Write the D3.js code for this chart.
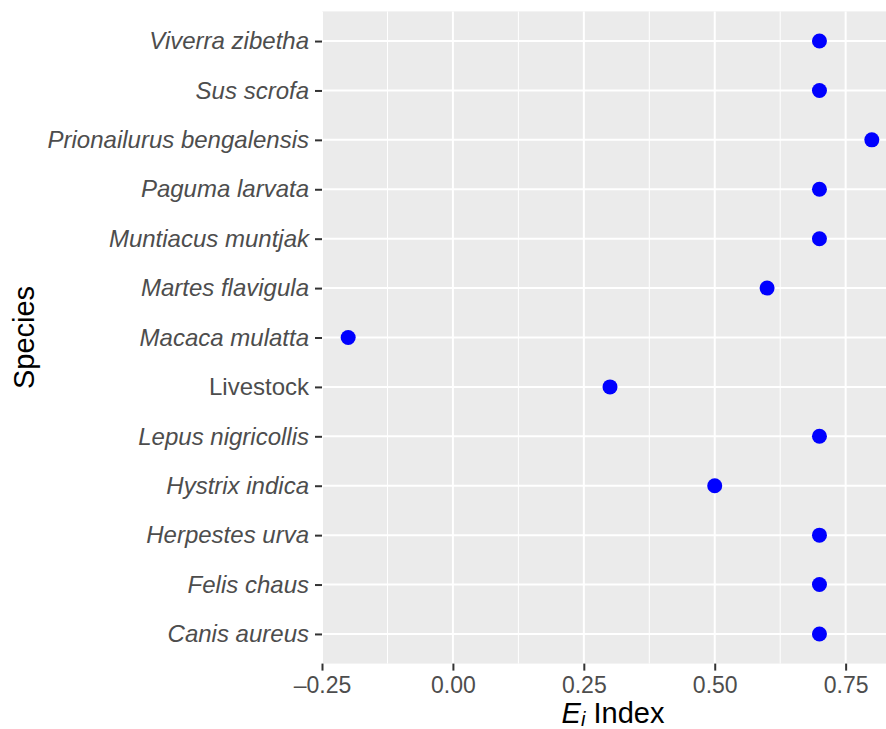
<!DOCTYPE html>
<html>
<head>
<meta charset="utf-8">
<script src="https://cdn.jsdelivr.net/npm/d3@7"></script>
<style>
  body { margin: 0; background: #fff; }
  svg { display: block; }
</style>
</head>
<body>
<script>
// species, listed bottom to top as in the plot
const species = [
    "Canis aureus", "Felis chaus", "Herpestes urva", "Hystrix indica",
    "Lepus nigricollis", "Livestock", "Macaca mulatta", "Martes flavigula",
    "Muntiacus muntjak", "Paguma larvata", "Prionailurus bengalensis",
    "Sus scrofa", "Viverra zibetha"
];
const eiValues = [0.7, 0.7, 0.7, 0.5, 0.7, 0.3, -0.2, 0.6, 0.7, 0.7, 0.8, 0.7, 0.7];
const xTicks = [-0.25, 0, 0.25, 0.5, 0.75];
const xMinor = [-0.125, 0.125, 0.375, 0.625, 0.875];
const notItalic = ["Livestock"];

const W = 886, H = 729;
const panel = {left: 322, top: 11.4, right: 898, bottom: 663.6};
const FONT = "'Liberation Sans', Arial, sans-serif";

const svg = d3.select("body").append("svg")
    .attr("width", W)
    .attr("height", H);

let xScale = d3.scaleLinear()
    .domain([-0.25, 0.85])
    .range([panel.left, panel.right]);

let yScale = d3.scalePoint()
    .domain(species.slice().reverse())
    .range([panel.top, panel.bottom])
    .padding(0.6);

// panel background
svg.append("rect")
    .attr("x", panel.left)
    .attr("y", panel.top)
    .attr("width", panel.right - panel.left)
    .attr("height", panel.bottom - panel.top)
    .attr("fill", "#EBEBEB");

// minor grid
svg.selectAll("line.minor")
    .data(xMinor)
    .enter().append("line")
    .attr("x1", d => xScale(d)).attr("x2", d => xScale(d))
    .attr("y1", panel.top).attr("y2", panel.bottom)
    .attr("stroke", "#fff").attr("stroke-width", 1);

// major grid
svg.selectAll("line.vmajor")
    .data(xTicks)
    .enter().append("line")
    .attr("x1", d => xScale(d)).attr("x2", d => xScale(d))
    .attr("y1", panel.top).attr("y2", panel.bottom)
    .attr("stroke", "#fff").attr("stroke-width", 2);

svg.selectAll("line.hmajor")
    .data(species)
    .enter().append("line")
    .attr("x1", panel.left).attr("x2", panel.right)
    .attr("y1", d => yScale(d)).attr("y2", d => yScale(d))
    .attr("stroke", "#fff").attr("stroke-width", 2);

// points
svg.selectAll("circle")
    .data(species.map((s, i) => ({s: s, v: eiValues[i]})))
    .enter().append("circle")
    .attr("cx", d => xScale(d.v))
    .attr("cy", d => yScale(d.s))
    .attr("r", 7.5)
    .attr("fill", "#0000FF");

// x axis
const xAxis = svg.append("g")
    .attr("transform", "translate(0," + panel.bottom + ")")
    .call(d3.axisBottom(xScale)
        .tickValues(xTicks)
        .tickSize(7)
        .tickPadding(6)
        .tickFormat(d3.format(".2f")));
xAxis.select(".domain").remove();
xAxis.selectAll(".tick line").attr("stroke", "#333").attr("stroke-width", 2);
xAxis.selectAll(".tick text")
    .attr("fill", "#4D4D4D")
    .style("font", "23px " + FONT)
    .text(d => d < 0 ? "\u2013" + d3.format(".2f")(-d) : d3.format(".2f")(d));

// y axis
const yAxis = svg.append("g")
    .attr("transform", "translate(" + panel.left + ",0)")
    .call(d3.axisLeft(yScale).tickSize(7).tickPadding(6));
yAxis.select(".domain").remove();
yAxis.selectAll(".tick line").attr("stroke", "#333").attr("stroke-width", 2);
yAxis.selectAll(".tick text")
    .attr("fill", "#4D4D4D")
    .style("font", "24px " + FONT)
    .style("font-style", d => notItalic.includes(d) ? "normal" : "italic");

// axis titles
const xTitle = svg.append("text")
    .attr("x", 613)
    .attr("y", 723)
    .attr("text-anchor", "middle")
    .style("font", "29px " + FONT)
    .attr("fill", "#000");
xTitle.append("tspan").style("font-style", "italic").text("E");
xTitle.append("tspan").style("font-style", "italic").style("font-size", "20px")
    .attr("dy", 3).text("i");
xTitle.append("tspan").attr("dy", -3).text(" Index");

svg.append("text")
    .attr("transform", "translate(34," + ((panel.top + panel.bottom) / 2) + ") rotate(-90)")
    .attr("text-anchor", "middle")
    .style("font", "29px " + FONT)
    .attr("fill", "#000")
    .text("Species");
</script>
</body>
</html>
